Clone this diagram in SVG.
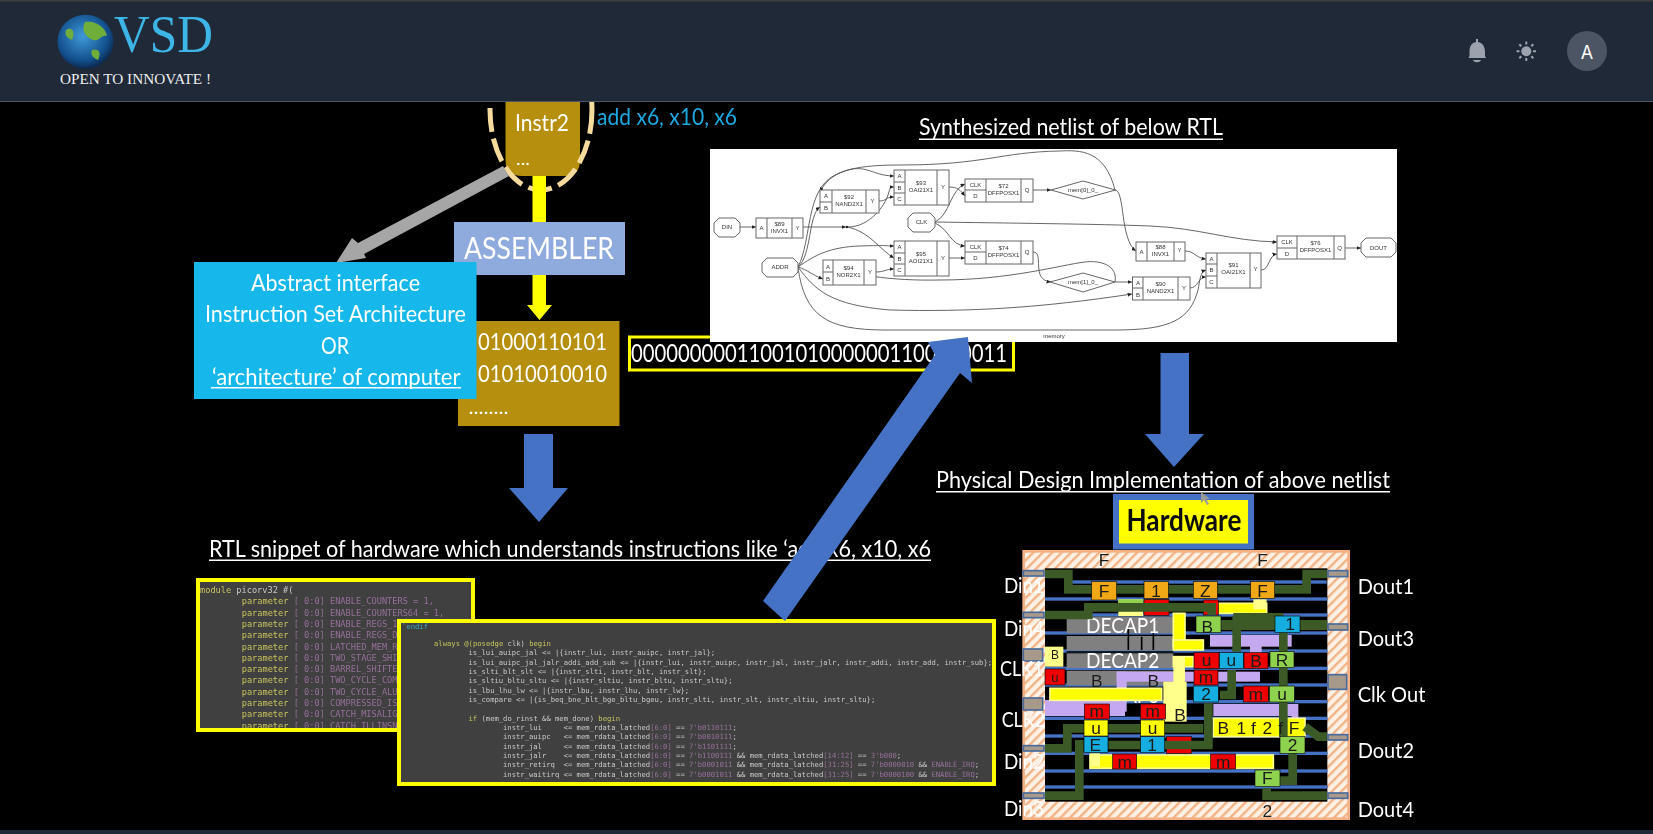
<svg xmlns="http://www.w3.org/2000/svg" width="1653" height="834" viewBox="0 0 1653 834">
<style>
.w{font-family:"Lato","Liberation Sans",sans-serif;fill:#fff}
.nl{font-family:"Liberation Sans",sans-serif;fill:#333;font-size:6px;text-anchor:middle}
.nb{fill:#fff;stroke:#666;stroke-width:1}
.nd{stroke:#666;stroke-width:1;fill:none}
.e{fill:none;stroke:#555;stroke-width:.9;marker-end:url(#ah)}
.m1{font-family:"DejaVu Sans Mono","Liberation Mono",monospace;font-size:8.65px;fill:#c9c9c9;white-space:pre}
.m2{font-family:"DejaVu Sans Mono","Liberation Mono",monospace;font-size:7.2px;fill:#c9c9c9;white-space:pre}
.k{fill:#c8c45e}
.p{fill:#96709a}
.gw{fill:none;stroke:#3b5a28;stroke-width:26}
.cl{font-family:"Liberation Sans",sans-serif;font-size:52px;fill:#1a1a1a;text-anchor:middle}
.pad{fill:#a89a8a;stroke:#4a6a9c;stroke-width:5}
.rail{fill:#4472c4}
.ya{fill:#ffff00;stroke:#ffff8c;stroke-width:5}
.ye{fill:#ffff8c}
.pu{fill:#c4a8f0}
.re{fill:#ee0000;stroke:#111;stroke-width:2}
.cy{fill:#12aee0;stroke:#111;stroke-width:2}
.lg{fill:#8ed24e;stroke:#111;stroke-width:2}
.or{fill:#f0a814;stroke:#111;stroke-width:2}
.yc{fill:#ffff00;stroke:#111;stroke-width:2}
.dc{fill:#808080}
.lab{font-family:"Lato","Liberation Sans",sans-serif;font-size:62px;fill:#fff}
</style>
<defs>
<marker id="ah" markerWidth="5" markerHeight="5" refX="4.5" refY="2" orient="auto" markerUnits="userSpaceOnUse"><path d="M0,0L4.5,2L0,4Z" fill="#222"/></marker>
<pattern id="hatch" width="20" height="20" patternUnits="userSpaceOnUse" patternTransform="rotate(45)"><rect width="20" height="20" fill="#fdf1e6"/><rect width="7" height="20" fill="#f4b183"/></pattern>
<radialGradient id="globe" cx=".45" cy=".4" r=".65"><stop offset="0" stop-color="#3f9ad8"/><stop offset=".7" stop-color="#124f8c"/><stop offset="1" stop-color="#0a1d3c"/></radialGradient>
<filter id="soft" x="-2%" y="-2%" width="104%" height="104%"><feGaussianBlur stdDeviation=".45"/></filter>
<clipPath id="cp1"><rect x="198" y="580" width="275" height="150"/></clipPath>
</defs>
<rect width="1653" height="834" fill="#000"/>
<rect y="830" width="1653" height="4" fill="#1f2937"/>

<g id="slide" filter="url(#soft)">
<g id="instr2">
<path d="M505.500,90H580V160Q580,176 564,176H522Q505.500,176 505.500,160Z" fill="#b58f0b"/>
<ellipse cx="541" cy="110" rx="51" ry="80" fill="none" stroke="#f6dc9c" stroke-width="5" stroke-dasharray="24 7"/>
<text class="w" x="515" y="131" font-size="24" textLength="54" lengthAdjust="spacingAndGlyphs">Instr2</text>
<text class="w" x="516" y="165" font-size="18" textLength="14" lengthAdjust="spacingAndGlyphs">...</text>
</g>
<text id="asm-text" class="w" x="597" y="125" font-size="24" textLength="140" lengthAdjust="spacingAndGlyphs" style="fill:#1fa8e0">add x6, x10, x6</text>

<g id="connectors">
<rect x="532.500" y="176" width="13.500" height="48" fill="#ffff00"/>
<polygon points="532.500,275 546,275 546,305 552,305 539.500,320 527,305 532.500,305" fill="#ffff00"/>
<polygon points="503,166 509,176 364,254 366,258 336,263 352,238 358,243" fill="#a6a6a6"/>
<polygon points="524,434 553,434 553,488 568,488 539,522 509,488 524,488" fill="#4472c4"/>
<polygon points="1160.500,353 1189,353 1189,434 1204,434 1174,467 1145,434 1160.500,434" fill="#4472c4"/>
</g>

<g id="assembler">
<rect x="454" y="222" width="171" height="53" fill="#8faadc"/>
<text class="w" x="464" y="259" font-size="31" textLength="150" lengthAdjust="spacingAndGlyphs">ASSEMBLER</text>
</g>

<g id="binary-box">
<rect x="458" y="321" width="161.500" height="105" fill="#b58f0b"/>
<text class="w" x="478" y="350" font-size="24" textLength="129" lengthAdjust="spacingAndGlyphs">01000110101</text>
<text class="w" x="478" y="382" font-size="24" textLength="129" lengthAdjust="spacingAndGlyphs">01010010010</text>
<text class="w" x="468.500" y="414" font-size="20" textLength="40" lengthAdjust="spacingAndGlyphs">........</text>
</g>

<g id="isa-box">
<rect x="194" y="262" width="282.500" height="137" fill="#12b8ec"/>
<text class="w" x="251" y="291" font-size="23" textLength="169" lengthAdjust="spacingAndGlyphs">Abstract interface</text>
<text class="w" x="205" y="322" font-size="23" textLength="261" lengthAdjust="spacingAndGlyphs">Instruction Set Architecture</text>
<text class="w" x="321" y="354" font-size="23" textLength="28" lengthAdjust="spacingAndGlyphs">OR</text>
<text class="w" x="212" y="385" font-size="23" textLength="248.500" lengthAdjust="spacingAndGlyphs">‘architecture’ of computer</text>
<rect x="211" y="387" width="250" height="1.500" fill="#fff"/>
</g>

<g id="machine-code">
<rect x="629.500" y="337" width="384" height="33" fill="#000" stroke="#ffff00" stroke-width="3"/>
<text class="w" x="631" y="362" font-size="25" textLength="376" lengthAdjust="spacingAndGlyphs">00000000011001010000001100110011</text>
</g>

<g id="netlist-title"><text class="w" x="919" y="135" font-size="23" textLength="304" lengthAdjust="spacingAndGlyphs">Synthesized netlist of below RTL</text><rect x="919" y="138.500" width="304" height="1.500" fill="#fff"/></g>

<g id="netlist">
<rect x="710" y="149" width="687" height="193" fill="#fff"/>
<g id="netlist-edges">
<path class="e" d="M740,227H756"/><path class="e" d="M803,227H846"/><circle cx="847" cy="227" r="1.200" fill="#222"/>
<path class="e" d="M848,227C870,227 885,205 888,195S890,187 894,187"/>
<path class="e" d="M848,227C870,232 880,250 894,258"/>
<path class="e" d="M879,201C887,201 885,197 894,197"/>
<path class="e" d="M798,267C812,255 808,215 820,207"/>
<path class="e" d="M798,267C812,240 805,190 835,175S870,176 894,176"/>
<path class="e" d="M798,267C815,255 830,247 860,246S885,246 894,246"/>
<path class="e" d="M798,267C808,270 812,275 823,279"/>
<path class="e" d="M876,272C885,272 885,269 894,269"/>
<path class="e" d="M949,187C958,187 960,190 965,196"/>
<path class="e" d="M935,222C950,215 950,190 965,184"/>
<path class="e" d="M935,223C950,230 950,245 965,246"/>
<path class="e" d="M949,258H965"/>
<path class="e" d="M1033,190H1051"/>
<path class="e" d="M1033,252C1045,252 1030,280 1051,282"/>
<path class="e" d="M1115,190C1125,190 1120,240 1136,251"/>
<path class="e" d="M1115,190C1105,150 1080,150 1060,151C1000,152 985,165 900,165C850,165 830,172 820,192"/>
<path class="e" d="M1115,282H1132"/>
<path class="e" d="M1115,282C1118,265 1100,260 1085,262C1060,265 1010,280 940,280C890,281 850,275 825,263"/>
<path class="e" d="M798,267C815,290 830,305 890,310C970,312 1040,308 1132,294"/>
<path class="e" d="M798,268C805,315 825,330 885,330H1115C1170,330 1190,320 1198,290C1200,280 1200,272 1206,270"/>
<path class="e" d="M1185,251C1195,251 1195,258 1206,259"/>
<path class="e" d="M1190,288C1198,288 1198,277 1206,277"/>
<path class="e" d="M1261,270C1270,270 1268,255 1277,254"/>
<path class="e" d="M935,222C1000,223 1100,224 1150,226C1200,228 1230,241 1277,242"/>
<path class="e" d="M1345,248H1361"/>
</g>
<g id="n-din"><polygon class="nb" points="719,218 735,218 740,223 740,232 735,237 719,237 714,232 714,223"/><text class="nl" x="727" y="229">DIN</text></g>
<g id="n-89"><rect class="nb" x="756" y="218" width="47" height="20"/><path class="nd" d="M767,218V238M792,218V238"/><text class="nl" x="761.500" y="230">A</text><text class="nl" x="797.500" y="230">Y</text><text class="nl" x="779.500" y="226">$89</text><text class="nl" x="779.500" y="232.500">INVX1</text></g>
<g id="n-92"><rect class="nb" x="820" y="190" width="59" height="23"/><path class="nd" d="M832,190V213M866,190V213M820,202H832"/><text class="nl" x="826" y="198">A</text><text class="nl" x="826" y="210">B</text><text class="nl" x="872.500" y="203">Y</text><text class="nl" x="849" y="199">$92</text><text class="nl" x="849" y="206">NAND2X1</text></g>
<g id="n-93"><rect class="nb" x="894" y="170" width="55" height="35"/><path class="nd" d="M905,170V205M937,170V205M894,182H905M894,193H905"/><text class="nl" x="899.500" y="178">A</text><text class="nl" x="899.500" y="190">B</text><text class="nl" x="899.500" y="201">C</text><text class="nl" x="943" y="189">Y</text><text class="nl" x="921" y="185">$93</text><text class="nl" x="921" y="192">OAI21X1</text></g>
<g id="n-72"><rect class="nb" x="965" y="179" width="68" height="23"/><path class="nd" d="M986,179V202M1021,179V202M965,190H986"/><text class="nl" x="975.500" y="187">CLK</text><text class="nl" x="975.500" y="198">D</text><text class="nl" x="1027" y="192">Q</text><text class="nl" x="1003.500" y="188">$72</text><text class="nl" x="1003.500" y="195">DFFPOSX1</text></g>
<g id="n-mem0"><polygon class="nb" points="1051,190 1083,181 1115.500,190 1083,199"/><text class="nl" x="1083" y="192">mem[0]_0_</text></g>
<g id="n-clk"><polygon class="nb" points="913,213 930,213 935,218 935,227 930,232 913,232 908,227 908,218"/><text class="nl" x="921.500" y="224">CLK</text></g>
<g id="n-95"><rect class="nb" x="894" y="241" width="55" height="35"/><path class="nd" d="M905,241V276M937,241V276M894,253H905M894,264H905"/><text class="nl" x="899.500" y="249">A</text><text class="nl" x="899.500" y="261">B</text><text class="nl" x="899.500" y="272">C</text><text class="nl" x="943" y="260">Y</text><text class="nl" x="921" y="256">$95</text><text class="nl" x="921" y="263">AOI21X1</text></g>
<g id="n-74"><rect class="nb" x="965" y="241" width="68" height="23"/><path class="nd" d="M986,241V264M1021,241V264M965,252H986"/><text class="nl" x="975.500" y="249">CLK</text><text class="nl" x="975.500" y="260">D</text><text class="nl" x="1027" y="254">Q</text><text class="nl" x="1003.500" y="250">$74</text><text class="nl" x="1003.500" y="257">DFFPOSX1</text></g>
<g id="n-addr"><polygon class="nb" points="767,258 793,258 798,263 798,272 793,277 767,277 762,272 762,263"/><text class="nl" x="780" y="269">ADDR</text></g>
<g id="n-94"><rect class="nb" x="823" y="260" width="53" height="25"/><path class="nd" d="M833,260V285M864,260V285M823,272H833"/><text class="nl" x="828" y="269">A</text><text class="nl" x="828" y="281">B</text><text class="nl" x="870" y="274">Y</text><text class="nl" x="848.500" y="270">$94</text><text class="nl" x="848.500" y="277">NOR2X1</text></g>
<g id="n-88"><rect class="nb" x="1136" y="242" width="49" height="19"/><path class="nd" d="M1147,242V261M1174,242V261"/><text class="nl" x="1141.500" y="254">A</text><text class="nl" x="1179.500" y="252">Y</text><text class="nl" x="1160.500" y="249">$88</text><text class="nl" x="1160.500" y="256">INVX1</text></g>
<g id="n-90"><rect class="nb" x="1132.500" y="277" width="57.500" height="23"/><path class="nd" d="M1143,277V300M1178,277V300M1132.500,288H1143"/><text class="nl" x="1138" y="285">A</text><text class="nl" x="1138" y="297">B</text><text class="nl" x="1184" y="290">Y</text><text class="nl" x="1160.500" y="286">$90</text><text class="nl" x="1160.500" y="293">NAND2X1</text></g>
<g id="n-mem1"><polygon class="nb" points="1050,282 1083,273 1115,282 1083,292"/><text class="nl" x="1083" y="284">mem[1]_0_</text></g>
<g id="n-91"><rect class="nb" x="1206" y="253" width="55" height="35"/><path class="nd" d="M1217,253V288M1250,253V288M1206,264H1217M1206,276H1217"/><text class="nl" x="1211.500" y="261">A</text><text class="nl" x="1211.500" y="272">B</text><text class="nl" x="1211.500" y="284">C</text><text class="nl" x="1255.500" y="271">Y</text><text class="nl" x="1233.500" y="267">$91</text><text class="nl" x="1233.500" y="274">OAI21X1</text></g>
<g id="n-76"><rect class="nb" x="1277" y="236" width="68" height="23"/><path class="nd" d="M1297,236V259M1334,236V259M1277,248H1297"/><text class="nl" x="1287" y="244">CLK</text><text class="nl" x="1287" y="256">D</text><text class="nl" x="1339.500" y="250">Q</text><text class="nl" x="1315.500" y="245">$76</text><text class="nl" x="1315.500" y="252">DFFPOSX1</text></g>
<g id="n-dout"><polygon class="nb" points="1366,238 1391,238 1396,243 1396,252 1391,257 1366,257 1361,252 1361,243"/><text class="nl" x="1378.500" y="250">DOUT</text></g>
<text class="nl" x="1054" y="338">memory</text>
</g>

<g id="rtl-title"><text class="w" x="209" y="557" font-size="23" textLength="722" lengthAdjust="spacingAndGlyphs">RTL snippet of hardware which understands instructions like ‘add x6, x10, x6</text><rect x="209" y="559.500" width="722" height="1.500" fill="#fff"/></g>

<g id="rtl-panel-1">
<rect x="196" y="578" width="279" height="154" fill="#3f3f3f"/>
<g clip-path="url(#cp1)">
<text class="m1" x="200" y="593"><tspan class="k">module</tspan> picorv32 #(</text>
<text class="m1" x="241.700" y="604.300"><tspan class="k">parameter</tspan> <tspan class="p">[ 0:0] ENABLE_COUNTERS = 1,</tspan></text>
<text class="m1" x="241.700" y="615.600"><tspan class="k">parameter</tspan> <tspan class="p">[ 0:0] ENABLE_COUNTERS64 = 1,</tspan></text>
<text class="m1" x="241.700" y="626.900"><tspan class="k">parameter</tspan> <tspan class="p">[ 0:0] ENABLE_REGS_1</tspan></text>
<text class="m1" x="241.700" y="638.200"><tspan class="k">parameter</tspan> <tspan class="p">[ 0:0] ENABLE_REGS_D</tspan></text>
<text class="m1" x="241.700" y="649.500"><tspan class="k">parameter</tspan> <tspan class="p">[ 0:0] LATCHED_MEM_R</tspan></text>
<text class="m1" x="241.700" y="660.800"><tspan class="k">parameter</tspan> <tspan class="p">[ 0:0] TWO_STAGE_SHI</tspan></text>
<text class="m1" x="241.700" y="672.100"><tspan class="k">parameter</tspan> <tspan class="p">[ 0:0] BARREL_SHIFTE</tspan></text>
<text class="m1" x="241.700" y="683.400"><tspan class="k">parameter</tspan> <tspan class="p">[ 0:0] TWO_CYCLE_COM</tspan></text>
<text class="m1" x="241.700" y="694.700"><tspan class="k">parameter</tspan> <tspan class="p">[ 0:0] TWO_CYCLE_ALU</tspan></text>
<text class="m1" x="241.700" y="706"><tspan class="k">parameter</tspan> <tspan class="p">[ 0:0] COMPRESSED_IS</tspan></text>
<text class="m1" x="241.700" y="717.300"><tspan class="k">parameter</tspan> <tspan class="p">[ 0:0] CATCH_MISALIG</tspan></text>
<text class="m1" x="241.700" y="728.600"><tspan class="k">parameter</tspan> <tspan class="p">[ 0:0] CATCH_ILLINSN</tspan></text>
</g>
<rect x="198" y="580" width="275" height="150" fill="none" stroke="#ffff00" stroke-width="4"/>
</g>

<g id="rtl-panel-2">
<rect x="399" y="621" width="595" height="163" fill="#404040" stroke="#ffff00" stroke-width="4"/>
<text class="m2" x="402" y="629" style="fill:#3aa6c8">`endif</text>
<text class="m2" x="434" y="646"><tspan class="k">always @(posedge</tspan> clk) <tspan class="k">begin</tspan></text>
<text class="m2" x="468.500" y="655.300">is_lui_auipc_jal &lt;= |{instr_lui, instr_auipc, instr_jal};</text>
<text class="m2" x="468.500" y="664.600">is_lui_auipc_jal_jalr_addi_add_sub &lt;= |{instr_lui, instr_auipc, instr_jal, instr_jalr, instr_addi, instr_add, instr_sub};</text>
<text class="m2" x="468.500" y="674">is_slti_blt_slt &lt;= |{instr_slti, instr_blt, instr_slt};</text>
<text class="m2" x="468.500" y="683.300">is_sltiu_bltu_sltu &lt;= |{instr_sltiu, instr_bltu, instr_sltu};</text>
<text class="m2" x="468.500" y="692.600">is_lbu_lhu_lw &lt;= |{instr_lbu, instr_lhu, instr_lw};</text>
<text class="m2" x="468.500" y="702">is_compare &lt;= |{is_beq_bne_blt_bge_bltu_bgeu, instr_slti, instr_slt, instr_sltiu, instr_sltu};</text>
<text class="m2" x="468.500" y="720.600"><tspan class="k">if</tspan> (mem_do_rinst &amp;&amp; mem_done) <tspan class="k">begin</tspan></text>
<text class="m2" x="503" y="730">instr_lui     &lt;= mem_rdata_latched<tspan class="p">[6:0]</tspan> == <tspan class="p">7'b0110111</tspan>;</text>
<text class="m2" x="503" y="739.300">instr_auipc   &lt;= mem_rdata_latched<tspan class="p">[6:0]</tspan> == <tspan class="p">7'b0010111</tspan>;</text>
<text class="m2" x="503" y="748.600">instr_jal     &lt;= mem_rdata_latched<tspan class="p">[6:0]</tspan> == <tspan class="p">7'b1101111</tspan>;</text>
<text class="m2" x="503" y="758">instr_jalr    &lt;= mem_rdata_latched<tspan class="p">[6:0]</tspan> == <tspan class="p">7'b1100111</tspan> &amp;&amp; mem_rdata_latched<tspan class="p">[14:12]</tspan> == <tspan class="p">3'b000</tspan>;</text>
<text class="m2" x="503" y="767.300">instr_retirq  &lt;= mem_rdata_latched<tspan class="p">[6:0]</tspan> == <tspan class="p">7'b0001011</tspan> &amp;&amp; mem_rdata_latched<tspan class="p">[31:25]</tspan> == <tspan class="p">7'b0000010</tspan> &amp;&amp; <tspan class="p">ENABLE_IRQ</tspan>;</text>
<text class="m2" x="503" y="776.600">instr_waitirq &lt;= mem_rdata_latched<tspan class="p">[6:0]</tspan> == <tspan class="p">7'b0001011</tspan> &amp;&amp; mem_rdata_latched<tspan class="p">[31:25]</tspan> == <tspan class="p">7'b0000100</tspan> &amp;&amp; <tspan class="p">ENABLE_IRQ</tspan>;</text>
</g>

<g id="pd-title"><text class="w" x="936" y="488" font-size="23" textLength="454" lengthAdjust="spacingAndGlyphs">Physical Design Implementation of above netlist</text><rect x="936" y="491" width="454" height="1.500" fill="#fff"/></g>

<polygon id="diag-arrow" points="763,601 935,355 928,342 968,337 972,383 960,373 785,621" fill="#4472c4"/>

<g id="hardware">
<rect x="1116" y="497" width="135" height="49.500" fill="#ffff00" stroke="#4472c4" stroke-width="6"/>
<text x="1184" y="531" font-family="Lato,'Liberation Sans',sans-serif" font-size="30" font-weight="700" fill="#111" text-anchor="middle" textLength="115" lengthAdjust="spacingAndGlyphs">Hardware</text>
</g>

<g id="layout" transform="translate(990,500) scale(.33333)">
<rect x="101" y="154" width="975" height="802" fill="url(#hatch)" stroke="#f4b183" stroke-width="8"/>
<rect x="165" y="205" width="847" height="700" fill="#000"/>
<g id="rails">
<rect class="rail" x="245" y="241" width="765" height="10"/><rect class="rail" x="165" y="292" width="847" height="10"/><rect class="rail" x="165" y="340" width="847" height="10"/><rect class="rail" x="165" y="394" width="847" height="10"/><rect class="rail" x="165" y="448" width="847" height="10"/><rect class="rail" x="165" y="500" width="847" height="10"/><rect class="rail" x="165" y="550" width="847" height="10"/><rect class="rail" x="165" y="600" width="847" height="10"/><rect class="rail" x="165" y="650" width="847" height="10"/><rect class="rail" x="165" y="703" width="847" height="10"/><rect class="rail" x="165" y="755" width="847" height="10"/><rect class="rail" x="165" y="808" width="847" height="10"/><rect class="rail" x="165" y="856" width="847" height="10"/>
</g>
<g id="decaps">
<rect class="dc" x="230" y="350" width="320" height="50"/><rect class="dc" x="230" y="408" width="320" height="44"/><rect class="dc" x="230" y="460" width="320" height="44"/><rect class="dc" x="230" y="512" width="320" height="44"/>
<path d="M415,380V450M455,410V450M490,400V450M230,456H550" fill="none" stroke="#000" stroke-width="5"/>
</g>
<text class="lab" x="288" y="398" textLength="220" lengthAdjust="spacingAndGlyphs">DECAP1</text>
<text class="lab" x="288" y="503" textLength="220" lengthAdjust="spacingAndGlyphs">DECAP2</text>
<text class="lab" x="288" y="608" textLength="220" lengthAdjust="spacingAndGlyphs">DECAP3</text>
<g id="purple">
<rect class="pu" x="165" y="600" width="240" height="48"/><rect class="pu" x="380" y="515" width="30" height="120"/><rect class="pu" x="380" y="515" width="430" height="30"/><rect class="pu" x="660" y="405" width="245" height="35"/><rect class="pu" x="780" y="435" width="35" height="25"/><rect class="pu" x="670" y="612" width="240" height="36"/><rect class="pu" x="905" y="612" width="20" height="45"/>
</g>
<g id="yellow">
<rect class="ye" x="520" y="545" width="70" height="120"/>
<rect class="ya" x="550" y="340" width="35" height="100"/><rect class="ya" x="550" y="420" width="90" height="30"/><rect class="ya" x="550" y="470" width="60" height="30"/><rect class="ye" x="550" y="470" width="35" height="80"/>
<rect class="ya" x="180" y="565" width="335" height="36"/><rect class="ye" x="165" y="440" width="55" height="60"/><rect class="ya" x="670" y="310" width="160" height="30"/><rect class="ye" x="790" y="298" width="40" height="30"/>
<rect class="ya" x="670" y="655" width="275" height="55"/><rect class="ya" x="300" y="765" width="550" height="40"/><rect class="ye" x="300" y="760" width="30" height="40"/>
<rect class="ye" x="385" y="298" width="75" height="50"/><rect x="385" y="298" width="75" height="20" fill="#92d050"/>
</g>
<rect class="re" x="462" y="298" width="75" height="48"/><rect class="re" x="640" y="300" width="45" height="45"/><rect class="re" x="530" y="710" width="75" height="50"/>
<g id="wires">
<path class="gw" d="M165,222H235V268H950V222H1012"/>
<path class="gw" d="M165,345H295V322H665V345"/>
<path class="gw" style="stroke-width:30" d="M690,375H1012"/>
<path class="gw" d="M740,350V455M880,350V710M730,352H880M725,510V585H690"/>
<path class="gw" d="M165,745H232V685H640"/>
<path class="gw" d="M355,735H655V610"/>
<path class="gw" d="M268,720V887H165"/>
<path class="gw" d="M945,680L985,710H1012"/>
<path class="gw" d="M908,760V842H870"/>
<path class="gw" d="M830,865V887H1012"/>
</g>
<g id="cells">
<rect class="or" x="305" y="245" width="75" height="55"/><rect class="or" x="462" y="245" width="73" height="50"/><rect class="or" x="610" y="245" width="72" height="50"/><rect class="or" x="782" y="245" width="72" height="50"/>
<rect class="re" x="165" y="507" width="60" height="48"/><rect class="re" x="283" y="612" width="75" height="45"/><rect class="re" x="452" y="612" width="75" height="45"/><rect class="re" x="612" y="458" width="75" height="48"/><rect class="re" x="612" y="510" width="72" height="45"/><rect class="re" x="762" y="458" width="72" height="48"/><rect class="re" x="760" y="558" width="75" height="48"/><rect class="re" x="368" y="762" width="72" height="45"/><rect class="re" x="662" y="762" width="75" height="45"/>
<rect class="cy" x="688" y="458" width="72" height="48"/><rect class="cy" x="610" y="558" width="75" height="48"/><rect class="cy" x="282" y="710" width="72" height="48"/><rect class="cy" x="452" y="710" width="72" height="48"/><rect class="cy" x="855" y="348" width="75" height="50"/>
<rect class="lg" x="618" y="348" width="75" height="50"/><rect class="lg" x="840" y="455" width="72" height="48"/><rect class="lg" x="838" y="558" width="75" height="48"/><rect class="lg" x="870" y="710" width="75" height="50"/><rect class="lg" x="795" y="810" width="75" height="50"/>
<rect class="yc" x="282" y="660" width="72" height="48"/><rect class="yc" x="452" y="660" width="72" height="48"/>
</g>
<g id="pads">
<rect class="pad" x="100" y="212" width="62" height="16"/><rect class="pad" x="100" y="337" width="62" height="16"/><rect class="pad" x="100" y="447" width="58" height="36"/><rect class="pad" x="100" y="594" width="58" height="36"/><rect class="pad" x="100" y="737" width="62" height="16"/><rect class="pad" x="100" y="879" width="62" height="16"/>
<rect class="pad" x="1014" y="212" width="59" height="18"/><rect class="pad" x="1014" y="372" width="59" height="18"/><rect class="pad" x="1014" y="524" width="56" height="44"/><rect class="pad" x="1014" y="704" width="59" height="16"/><rect class="pad" x="1014" y="879" width="59" height="16"/>
</g>
<g id="cell-labels">
<text class="cl" x="342" y="290">F</text><text class="cl" x="498" y="290">1</text><text class="cl" x="646" y="290">Z</text><text class="cl" x="818" y="290">F</text>
<text class="cl" x="342" y="197">F</text><text class="cl" x="818" y="197">F</text><text class="cl" x="832" y="950">2</text>
<text class="cl" x="652" y="398">B</text><text class="cl" x="195" y="478" style="font-size:36px">B</text><text class="cl" x="195" y="545" style="font-size:40px">u</text>
<text class="cl" x="320" y="562">B</text><text class="cl" x="490" y="560">B</text><text class="cl" x="570" y="662">B</text>
<text class="cl" x="320" y="650">m</text><text class="cl" x="488" y="650">m</text><text class="cl" x="650" y="498">u</text><text class="cl" x="724" y="498">u</text><text class="cl" x="798" y="500">B</text><text class="cl" x="876" y="498">R</text>
<text class="cl" x="648" y="548">m</text><text class="cl" x="648" y="600">2</text><text class="cl" x="797" y="600">m</text><text class="cl" x="876" y="600">u</text>
<text class="cl" x="318" y="702">u</text><text class="cl" x="488" y="702">u</text><text class="cl" x="316" y="752">E</text><text class="cl" x="486" y="752">1</text>
<text class="cl" x="404" y="803">m</text><text class="cl" x="700" y="803">m</text><text class="cl" x="908" y="752">2</text><text class="cl" x="832" y="852">F</text>
<text class="cl" x="700" y="703">B</text><text class="cl" x="754" y="703">1</text><text class="cl" x="790" y="703">f</text><text class="cl" x="832" y="703">2</text><text class="cl" x="872" y="703">f</text><text class="cl" x="912" y="703">F</text><text class="cl" x="900" y="390">1</text>
</g>
<g id="pin-labels">
<text class="lab" x="42" y="280" textLength="120" lengthAdjust="spacingAndGlyphs">Din1</text>
<text class="lab" x="42" y="408" textLength="120" lengthAdjust="spacingAndGlyphs">Din4</text>
<text class="lab" x="30" y="527" textLength="130" lengthAdjust="spacingAndGlyphs">CLK1</text>
<text class="lab" x="35" y="680" textLength="130" lengthAdjust="spacingAndGlyphs">CLK2</text>
<text class="lab" x="42" y="808" textLength="120" lengthAdjust="spacingAndGlyphs">Din2</text>
<text class="lab" x="42" y="947" textLength="120" lengthAdjust="spacingAndGlyphs">Din3</text>
<text class="lab" x="1103" y="283" textLength="169" lengthAdjust="spacingAndGlyphs">Dout1</text>
<text class="lab" x="1103" y="437" textLength="169" lengthAdjust="spacingAndGlyphs">Dout3</text>
<text class="lab" x="1103" y="605" textLength="203" lengthAdjust="spacingAndGlyphs">Clk Out</text>
<text class="lab" x="1103" y="775" textLength="169" lengthAdjust="spacingAndGlyphs">Dout2</text>
<text class="lab" x="1103" y="950" textLength="169" lengthAdjust="spacingAndGlyphs">Dout4</text>
</g>
</g>
<polygon id="cursor" points="1201,492 1201,503 1204,500 1207,505 1209,504 1206,499 1210,499" fill="#9a9a9a"/>
</g>

<g id="header">
<rect width="1653" height="101" fill="#1f2937"/>
<rect width="1653" height="1.500" fill="#3f3f3f"/>
<rect y="101" width="1653" height="1" fill="#4b5563"/>
<g id="logo">
<ellipse cx="85.500" cy="41.700" rx="28" ry="27" fill="url(#globe)"/>
<path d="M85,22C96,20 106,28 107,36C101,34 99,42 93,40C88,38 80,32 85,22ZM92,50C98,48 102,52 98,60C94,58 90,56 92,50ZM66,30C72,26 76,32 72,40C68,38 64,36 66,30Z" fill="#6fae3a"/>
<text x="114" y="52" font-family="'Liberation Serif',serif" font-size="52" fill="#3db5e6" textLength="99" lengthAdjust="spacingAndGlyphs">VSD</text>
<text x="60" y="84" font-family="'Liberation Serif',serif" font-size="15" fill="#eee" textLength="151" lengthAdjust="spacingAndGlyphs">OPEN TO INNOVATE !</text>
</g>
<g id="bell" fill="#9ca3af"><path d="M1476,39h2v3C1483,43 1485,47 1485,52V56L1486,58H1468.500L1469.500,56V52C1469.500,47 1471,43 1476,42Z"/><path d="M1473,60H1481C1480,63 1474,63 1473,60Z"/></g>
<g id="sun"><circle cx="1526.300" cy="51.300" r="5" fill="#9ca3af"/><path d="M1526.300,41.500v3M1526.300,58v3M1516.500,51.300h3M1533,51.300h3M1519.300,44.300l2,2M1531.300,56.300l2,2M1519.300,58.300l2,-2M1531.300,46.300l2,-2" stroke="#9ca3af" stroke-width="2" fill="none"/></g>
<g id="avatar"><circle cx="1587" cy="51" r="20" fill="#4b5563"/><text x="1587" y="59" font-family="Inter,'Liberation Sans',sans-serif" font-size="18" fill="#fff" text-anchor="middle">A</text></g>
</g>
</svg>
